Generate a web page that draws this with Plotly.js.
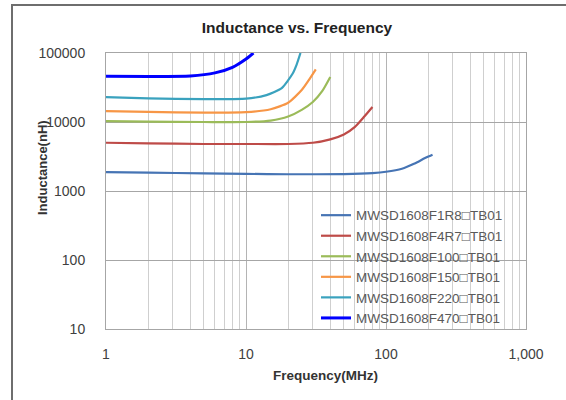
<!DOCTYPE html>
<html>
<head>
<meta charset="utf-8">
<script src="https://cdn.plot.ly/plotly-3.0.1.min.js"></script>
<style>
  html, body { margin: 0; padding: 0; background: #ffffff; }
  #wrap { position: relative; width: 566px; height: 400px; }
  #chart { width: 566px; height: 400px; }
  #bordertop { position: absolute; left: 11px; top: 4px; width: 555px; height: 2px; background: #6e6e6e; pointer-events: none; }
  #borderleft { position: absolute; left: 11px; top: 4px; width: 2px; height: 396px; background: #6e6e6e; pointer-events: none; }
</style>
</head>
<body>
<div id="wrap">
  <div id="chart"></div>
  <div id="bordertop"></div>
  <div id="borderleft"></div>
</div>
<script>
// ---- Data (frequency in MHz, inductance in nH) ----
const seriesNames = [
  "MWSD1608F1R8\u25A1TB01",
  "MWSD1608F4R7\u25A1TB01",
  "MWSD1608F100\u25A1TB01",
  "MWSD1608F150\u25A1TB01",
  "MWSD1608F220\u25A1TB01",
  "MWSD1608F470\u25A1TB01"
];

const freq_1R8 = [1, 2, 5, 10, 20, 50, 80, 100, 130, 160, 190, 215];
const ind_1R8  = [1880, 1850, 1800, 1770, 1750, 1760, 1820, 1900, 2100, 2500, 3000, 3350];

const freq_4R7 = [1, 2, 5, 10, 20, 30, 40, 50, 60, 70, 80];
const ind_4R7  = [5000, 4900, 4800, 4800, 4800, 5000, 5600, 6600, 8500, 12000, 16500];

const freq_100 = [1, 2, 5, 10, 15, 20, 25, 30, 35, 40];
const ind_100  = [10300, 10100, 10000, 10000, 10500, 12000, 15000, 19500, 28000, 45000];

const freq_150 = [1, 2, 5, 10, 15, 20, 25, 28, 31.5];
const ind_150  = [14400, 14000, 13700, 13900, 15300, 19000, 29000, 40000, 58000];

const freq_220 = [1, 2, 5, 10, 14, 18, 21.5, 23, 24.5];
const ind_220  = [23000, 22000, 21500, 21800, 24500, 31000, 50000, 68000, 100000];

const freq_470 = [1, 2, 4, 6, 8, 10, 11.3];
const ind_470  = [46000, 45800, 46500, 51500, 62000, 82000, 100000];

const xTickVals = [1, 10, 100, 1000];
const xTickText = ["1", "10", "100", "1,000"];
const yTickVals = [10, 100, 1000, 10000, 100000];
const yTickText = ["10", "100", "1000", "10000", "100000"];

// ---- Styles ----
const colors = ["#4674B4", "#BE4B48", "#9BBB59", "#F79646", "#3AA2BE", "#0000FF"];
const widths = [2.2, 2.2, 2.2, 2.2, 2.2, 3];

const xs = [freq_1R8, freq_4R7, freq_100, freq_150, freq_220, freq_470];
const ys = [ind_1R8, ind_4R7, ind_100, ind_150, ind_220, ind_470];

const traces = seriesNames.map((name, i) => ({
  type: "scatter",
  mode: "lines",
  name: name,
  x: xs[i],
  y: ys[i],
  line: { color: colors[i], width: widths[i], shape: "spline", smoothing: 0.6 },
  cliponaxis: true,
  hoverinfo: "x+y+name"
}));

const baseFont = "'Liberation Sans', Arial, sans-serif";

const layout = {
  width: 566,
  height: 400,
  margin: { l: 106, r: 40, t: 53, b: 71, pad: 0 },
  paper_bgcolor: "#ffffff",
  plot_bgcolor: "#ffffff",
  font: { family: baseFont, size: 14, color: "#404040" },
  showlegend: true,
  title: {
    text: "<b>Inductance vs. Frequency</b>",
    font: { family: baseFont, size: 15.5, color: "#222222" },
    xref: "container", x: 297 / 566, xanchor: "center",
    yref: "container", y: 1 - 28 / 400, yanchor: "middle"
  },
  xaxis: {
    type: "log",
    range: [0, 3],
    tickvals: xTickVals,
    ticktext: xTickText,
    ticks: "",
    ticklabelstandoff: 12,
    tickfont: { family: baseFont, size: 14, color: "#404040" },
    showgrid: true,
    gridcolor: "#B4B4B4",
    gridwidth: 1,
    minor: { dtick: "D1", showgrid: true, gridcolor: "#CFCFCF", gridwidth: 1, ticks: "" },
    showline: true,
    linecolor: "#A6A6A6",
    linewidth: 1,
    mirror: true,
    zeroline: false,
    fixedrange: true
  },
  yaxis: {
    type: "log",
    range: [1, 5],
    tickvals: yTickVals,
    ticktext: yTickText,
    ticks: "",
    ticklabelstandoff: 17,
    tickfont: { family: baseFont, size: 14, color: "#404040" },
    showgrid: true,
    gridcolor: "#A6A6A6",
    gridwidth: 1,
    showline: true,
    linecolor: "#A6A6A6",
    linewidth: 1,
    mirror: true,
    zeroline: false,
    fixedrange: true
  },
  legend: {
    x: 0.5, xanchor: "left",
    y: 0.225, yanchor: "middle",
    bgcolor: "rgba(0,0,0,0)",
    borderwidth: 0,
    font: { family: baseFont, size: 13.5, color: "#595959" },
    traceorder: "normal"
  },
  annotations: [
    {
      text: "<b>Inductance(nH)</b>",
      xref: "paper", yref: "paper",
      x: (42 - 106) / 420, y: (329 - 168) / 276,
      xanchor: "center", yanchor: "middle",
      textangle: -90,
      showarrow: false,
      font: { family: baseFont, size: 13, color: "#333333" }
    },
    {
      text: "<b>Frequency(MHz)</b>",
      xref: "paper", yref: "paper",
      x: (325 - 106) / 420, y: (329 - 375) / 276,
      xanchor: "center", yanchor: "middle",
      showarrow: false,
      font: { family: baseFont, size: 13.5, color: "#333333" }
    }
  ]
};

Plotly.newPlot("chart", traces, layout, { displayModeBar: false, staticPlot: true });
</script>
</body>
</html>
